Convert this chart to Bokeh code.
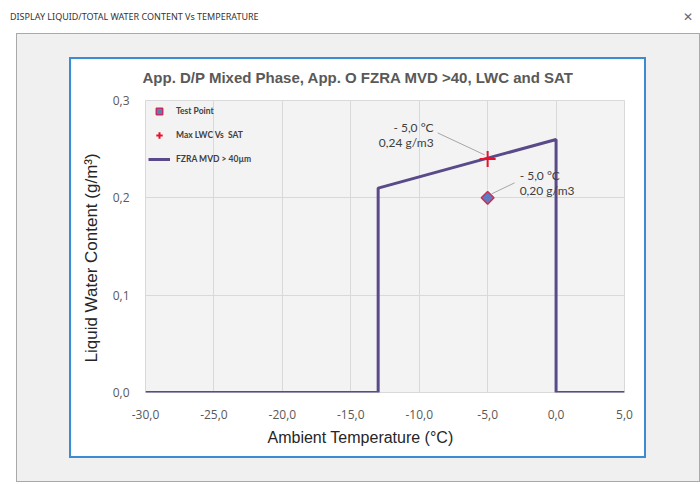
import numpy as np
from bokeh.plotting import figure
from bokeh.models import (FixedTicker, CustomJSTickFormatter, Legend, LegendItem,
                          Title, Div, Range1d)
from bokeh.layouts import column
from bokeh.core.properties import value
from bokeh.embed import file_html
from bokeh.resources import INLINE

# ---------------- data ----------------
temperature = [-30.0, -13.0, -13.0, 0.0, 0.0, 5.0]
lwc_envelope = [0.0, 0.0, 0.21, 0.26, 0.0, 0.0]
test_temp = [-5.0]
test_lwc = [0.20]
max_temp = [-5.0]
max_lwc = [0.24]
x_ticks = [-30, -25, -20, -15, -10, -5, 0, 5]
y_ticks = [0.0, 0.1, 0.2, 0.3]

window_title = "DISPLAY LIQUID/TOTAL WATER CONTENT Vs TEMPERATURE"
chart_title = "App. D/P Mixed Phase, App. O  FZRA MVD >40, LWC and SAT"
x_label = "Ambient Temperature (°C)"
y_label = "Liquid Water Content (g/m³)"
legend_labels = ["Test Point", "Max LWC Vs  SAT", "FZRA MVD > 40µm"]

X0, X1 = -30, 5
Y0, Y1 = 0.0, 0.3

# ---------------- geometry ----------------
W, H = 573, 397
ML, MR, MT, MB = 74, 20, 41, 64
FW, FH = W - ML - MR, H - MT - MB
px_x = (X1 - X0) / FW
px_y = (Y1 - Y0) / FH


def fmt_label(t, v):
    return f"- {abs(t):.1f} °C\n{v:.2f} g/m3".replace(".", ",")


p = figure(width=W, height=H, x_range=Range1d(X0, X1), y_range=Range1d(Y0, Y1),
           output_backend="svg", toolbar_location=None,
           min_border_left=ML, min_border_right=MR, min_border_top=MT, min_border_bottom=MB,
           margin=(26, 56, 26, 55),
           background_fill_color="#f3f3f3", border_fill_color="white",
           outline_line_color="#d9d9d9",
           styles={"box-shadow": "0 0 0 2px #3d8bd0"})

# spacer between frame and chart title (closest to the frame), then the title
spacer = Title(text="\u00a0", text_font_size="10px", standoff=2)
p.add_layout(spacer, "above")
ct = Title(text=chart_title, align="left", offset=-3, vertical_align="bottom",
           text_font="Liberation Sans", text_font_size="15px", text_font_style="bold",
           text_color="#595959", standoff=0)
p.add_layout(ct, "above")

fmt = CustomJSTickFormatter(code="return tick.toFixed(1).replace('.', ',');")
p.xaxis.ticker = FixedTicker(ticks=x_ticks)
p.yaxis.ticker = FixedTicker(ticks=y_ticks)
p.xgrid.ticker = FixedTicker(ticks=x_ticks)
p.ygrid.ticker = FixedTicker(ticks=y_ticks)
p.xaxis.formatter = fmt
p.yaxis.formatter = fmt
p.axis.axis_line_color = None
p.axis.major_tick_line_color = None
p.axis.minor_tick_line_color = None
p.axis.major_label_text_font = "Open Sans"
p.axis.major_label_text_font_size = "12px"
p.axis.major_label_text_color = "#595959"
p.xaxis.major_label_standoff = 11
p.yaxis.major_label_standoff = 10
p.grid.grid_line_color = "#d9d9d9"

yt = Title(text=y_label, align="left", offset=30, vertical_align="bottom",
           text_font="Liberation Sans", text_font_size="17px", text_font_style="normal",
           text_color="#262626", standoff=17)
p.add_layout(yt, "left")

xt = Title(text=x_label, align="left", offset=122, text_font="Liberation Sans",
           text_font_size="16px", text_font_style="normal", text_color="#262626", standoff=10)
p.add_layout(xt, "below")

# ---------------- glyphs ----------------
r_line = p.line(temperature, lwc_envelope, line_color="#5a4a8a", line_width=3)
r_max = p.scatter(max_temp, max_lwc, marker="cross", size=16, line_color="#e8102a", line_width=2)
r_test = p.scatter(test_temp, test_lwc, marker="square", angle=np.pi / 4, size=9,
                   fill_color="#5b7cc0", line_color="#c2305a", line_width=1.5)

# leader lines (pixel offsets from the annotated points)
lead_max = [(-50, -26), (-3, -4)]
lead_test = [(4, -4), (27, -15)]
x0s, y0s, x1s, y1s = [], [], [], []
for (tx, ty), lead in (((max_temp[0], max_lwc[0]), lead_max), ((test_temp[0], test_lwc[0]), lead_test)):
    (ax, ay), (bx, by) = lead
    x0s.append(tx + ax * px_x); y0s.append(ty - ay * px_y)
    x1s.append(tx + bx * px_x); y1s.append(ty - by * px_y)
p.segment(x0s, y0s, x1s, y1s, line_color="#a6a6a6", line_width=1)

p.text(x=max_temp, y=max_lwc, text=[fmt_label(max_temp[0], max_lwc[0])],
       x_offset=-54, y_offset=-24, text_align="right", text_baseline="middle",
       text_font=value("Lato"), text_font_size="12px", text_color="#404040",
       text_line_height=1.0)
p.text(x=test_temp, y=test_lwc, text=[fmt_label(test_temp[0], test_lwc[0])],
       x_offset=32, y_offset=-15, text_align="left", text_baseline="middle",
       text_font=value("Lato"), text_font_size="12px", text_color="#404040",
       text_line_height=1.0)

legend = Legend(items=[LegendItem(label=legend_labels[0], renderers=[r_test]),
                       LegendItem(label=legend_labels[1], renderers=[r_max]),
                       LegendItem(label=legend_labels[2], renderers=[r_line])],
                location="top_left", background_fill_alpha=0, border_line_alpha=0,
                label_text_font="Lato", label_text_font_size="8.5px",
                label_text_font_style="bold", label_text_color="#404040",
                margin=0, padding=3, spacing=8, glyph_height=16, glyph_width=22,
                label_standoff=6, label_height=16)
p.add_layout(legend)

# ---------------- page chrome ----------------
header = Div(text=(
    "<div style='display:flex;justify-content:space-between;align-items:flex-start;"
    "width:700px;height:33px;font-family:\"Noto Sans\";color:#333;'>"
    f"<span style='margin-left:10px;padding-top:11px;font-size:9px;'>{window_title}</span>"
    "<span style='font-family:\"DejaVu Sans\";font-size:12px;color:#666;padding-top:9px;margin-right:7px;'>&#x2715;</span>"
    "</div>"), width=700, height=33, margin=0)

panel = column(p, margin=(0, 0, 0, 16),
               styles={"background-color": "#f0f0f0", "box-shadow": "inset 0 0 0 1px #a9a9a9"})

layout = column(header, panel)

open("out.html", "w").write(file_html(layout, INLINE))
